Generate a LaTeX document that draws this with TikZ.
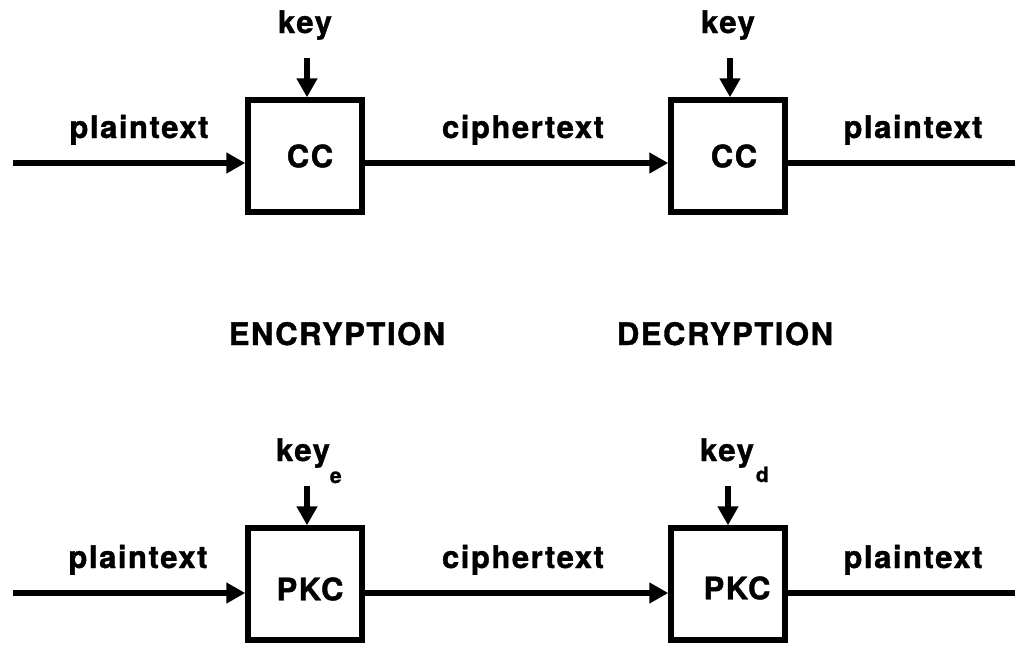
\documentclass[tikz,border=0pt]{standalone}
\usepackage{fontspec}
\newfontfamily\lab{TeX Gyre Heros}[LetterSpace=5,BoldFeatures={FakeBold=1.2}]
\usetikzlibrary{arrows.meta}
\begin{document}
\begin{tikzpicture}[x=1pt,y=-1pt,
  box/.style={draw,line width=5.5pt,minimum width=114pt,minimum height=112pt,inner sep=0pt},
  lbl/.style={font={\lab\bfseries\fontsize{31}{31}\selectfont},inner sep=0pt,anchor=base},
  conn/.style={line width=5.5pt,-{Triangle[length=19pt,width=20pt]}},
  wire/.style={line width=5.5pt}]
\useasboundingbox[fill=white] (0,0) rectangle (1015,646);

% ---- top row (conventional cipher) ----
\node[box] (b1) at (305,156) {};
\node[box] (b2) at (728,156) {};
\coordinate (inA) at (13,163);
\coordinate (outA) at (1015,163);
\draw[conn] (inA) -- (inA -| b1.west);
\draw[conn] (b1.east |- inA) -- (b2.west |- inA);
\draw[wire] (b2.east |- inA) -- (outA);
\coordinate (k1) at (307,58);
\coordinate (k2) at (730,58);
\draw[conn] (k1) -- (k1 |- b1.north);
\draw[conn] (k2) -- (k2 |- b2.north);

\node[lbl] (pt1) at (139,138) {plaintext};
\node[lbl] (ct1) at (523,138) {ciphertext};
\node[lbl] (po1) at (913,138) {plaintext};
\node[lbl] (key1) at (305,33) {key};
\node[lbl] (key2) at (728,33) {key};
\node[lbl,anchor=center] (cc1) at (310,156) {CC};
\node[lbl,anchor=center] (cc2) at (734,156) {CC};

% ---- middle labels ----
\node[lbl] (enc) at (337,345) {ENCRYPTION};
\node[lbl] (dec) at (725,345) {DECRYPTION};

% ---- bottom row (public key cipher) ----
\node[box] (b3) at (305,584) {};
\node[box] (b4) at (728,584) {};
\coordinate (inB) at (13,593);
\coordinate (outB) at (1015,593);
\draw[conn] (inB) -- (inB -| b3.west);
\draw[conn] (b3.east |- inB) -- (b4.west |- inB);
\draw[wire] (b4.east |- inB) -- (outB);
\coordinate (k3) at (307,486);
\coordinate (k4) at (728,486);
\draw[conn] (k3) -- (k3 |- b3.north);
\draw[conn] (k4) -- (k4 |- b4.north);

\node[lbl] (pt2) at (138,568) {plaintext};
\node[lbl] (ct2) at (523,568) {ciphertext};
\node[lbl] (po2) at (913,568) {plaintext};
\node[lbl] (key3) at (303,461) {key\rlap{\raisebox{-22pt}{\fontsize{21}{21}\selectfont e}}};
\node[lbl] (key4) at (727,461) {key\rlap{\hspace{2pt}\raisebox{-21pt}{\fontsize{21}{21}\selectfont d}}};
\node[lbl,anchor=center] (pkc1) at (310,589) {PKC};
\node[lbl,anchor=center] (pkc2) at (737,588) {PKC};
\end{tikzpicture}
\end{document}
